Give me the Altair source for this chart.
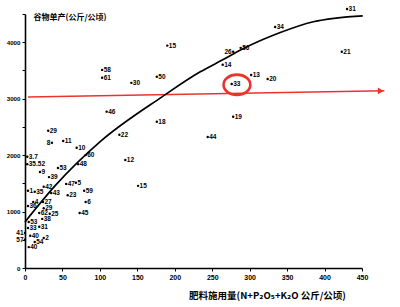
import altair as alt
import pandas as pd

# numbered points, label drawn to the right of the dot
r_label = ["15", "58", "61", "30", "50", "46", "18", "22", "29", "11", "10", "60", "48",
           "3.7", "35.52", "9", "53", "39", "47", "5", "59", "23", "1", "35", "42", "43",
           "6", "45", "4", "27", "36", "29", "62", "25", "38", "53", "31", "33", "40", "2",
           "54", "40", "12", "15", "44", "19", "33", "20", "13", "14", "56", "34", "31", "21"]
r_x = [190, 103, 103, 142, 176, 109, 176, 126, 31, 51, 69, 81, 71,
       3, 3, 20, 44, 32, 55, 68, 79, 57, 4, 13, 25, 35,
       81, 73, 11, 24, 4, 25, 19, 33, 23, 5, 19, 4, 7, 25,
       13, 5, 134, 151, 244, 278, 276, 324, 302, 264, 288, 334, 430, 423]
r_y = [3940, 3510, 3370, 3280, 3390, 2770, 2590, 2360, 2430, 2250, 2130, 2000, 1840,
       1970, 1840, 1700, 1770, 1610, 1490, 1510, 1370, 1290, 1370, 1350, 1440, 1330,
       1170, 975, 1170, 1170, 1100, 1060, 975, 960, 870, 815, 730, 710, 570, 530,
       460, 370, 1915, 1455, 2320, 2680, 3260, 3350, 3420, 3600, 3900, 4270, 4590, 3830]

# numbered points, label drawn to the left of the dot
l_label = ["26", "8", "41", "57"]
l_x = [278, 36, 0, 0]
l_y = [3830, 2220, 620, 500]

# fitted curve
curve_x = [0, 40, 100, 183, 234, 264, 291, 340, 385, 451]
curve_y = [816, 1454, 2234, 3032, 3475, 3688, 3883, 4167, 4362, 4468]

# red arrow (3000 kg/ha level) and highlighted point
arrow_x = [4]
arrow_x2 = [480]
arrow_y = [3030]
arrow_y2 = [3140]
head_x = [475]
head_y = [3138]
hl_x = [283]
hl_y = [3245]

RED = "#e8342c"
NUM_FONT = "Liberation Sans"
CJK_FONT = "Noto Sans CJK SC, DejaVu Sans"

df_r = pd.DataFrame({"x": r_x, "y": r_y, "label": r_label})
df_l = pd.DataFrame({"x": l_x, "y": l_y, "label": l_label})
df_all = pd.concat([df_r, df_l], ignore_index=True)
df_curve = pd.DataFrame({"x": curve_x, "y": curve_y})
df_arrow = pd.DataFrame({"x": arrow_x, "x2": arrow_x2, "y": arrow_y, "y2": arrow_y2})
df_head = pd.DataFrame({"x": head_x, "y": head_y})
df_hl = pd.DataFrame({"x": hl_x, "y": hl_y})

xs = alt.Scale(domain=[0, 450], nice=False, zero=False)
ys = alt.Scale(domain=[0, 4500], nice=False, zero=False)

x_axis = alt.Axis(
    values=list(range(0, 451, 50)), grid=False, domainColor="black", domainWidth=1.6,
    tickColor="black", tickSize=3, labelFont=NUM_FONT, labelFontSize=7,
    labelFontWeight="bold", labelColor="black", labelPadding=2, labelFlush=False,
    format="d",
    title="肥料施用量(N+P₂O₅+K₂O 公斤/公顷)", titleFont=CJK_FONT, titleFontSize=9.5,
    titleFontWeight="bold", titleColor="black", titleX=242, titleY=27,
    titleAlign="center", titleBaseline="middle")
y_axis = alt.Axis(
    values=list(range(0, 4501, 500)), grid=False, domainColor="black", domainWidth=1.6,
    tickColor="black", tickSize=3, labelFont=NUM_FONT, labelFontSize=6.2,
    labelFontWeight="bold", labelColor="black", labelPadding=2, labelFlush=False,
    format="d",
    labelExpr="datum.value % 1000 == 0 && datum.value < 4500 ? datum.label : ''",
    title="谷物单产(公斤/公顷)", titleFont=CJK_FONT, titleFontSize=8,
    titleFontWeight="bold", titleColor="black", titleAngle=0, titleX=8, titleY=3,
    titleAlign="left", titleBaseline="middle")

X = alt.X("x:Q", scale=xs, axis=x_axis)
Y = alt.Y("y:Q", scale=ys, axis=y_axis)

curve = alt.Chart(df_curve).mark_line(color="black", strokeWidth=1.7,
                                      interpolate="monotone").encode(x=X, y=Y)
dots = alt.Chart(df_all).mark_circle(size=6, color="black", opacity=1).encode(x=X, y=Y)
lab_r = alt.Chart(df_r).mark_text(align="left", baseline="middle", dx=1.5, fontSize=6.5,
                                  fontWeight="bold", font=NUM_FONT, color="black"
                                  ).encode(x=X, y=Y, text="label:N")
lab_l = alt.Chart(df_l).mark_text(align="right", baseline="middle", dx=-1.5, fontSize=6.5,
                                  fontWeight="bold", font=NUM_FONT, color="black"
                                  ).encode(x=X, y=Y, text="label:N")
arrow = alt.Chart(df_arrow).mark_rule(color=RED, strokeWidth=1.4).encode(
    x=X, x2="x2:Q", y=Y, y2="y2:Q")
head = alt.Chart(df_head).mark_point(shape="triangle-right", filled=True, size=45,
                                     color=RED, opacity=1).encode(x=X, y=Y)
ellipse = "M -1.25 0 A 1.25 0.95 0 1 1 1.25 0 A 1.25 0.95 0 1 1 -1.25 0 Z"
ring = alt.Chart(df_hl).mark_point(shape=ellipse, size=460, filled=False, stroke=RED,
                                   strokeWidth=2.6, opacity=1).encode(x=X, y=Y)

chart = alt.layer(arrow, head, curve, dots, lab_r, lab_l, ring).properties(
    width=337, height=254,
    autosize=alt.AutoSizeParams(type="none"),
    padding={"left": 25, "top": 14, "right": 38, "bottom": 39},
    background="white",
).configure_view(stroke=None)

chart.save("out.html", embed_options={"renderer": "svg", "actions": False})
